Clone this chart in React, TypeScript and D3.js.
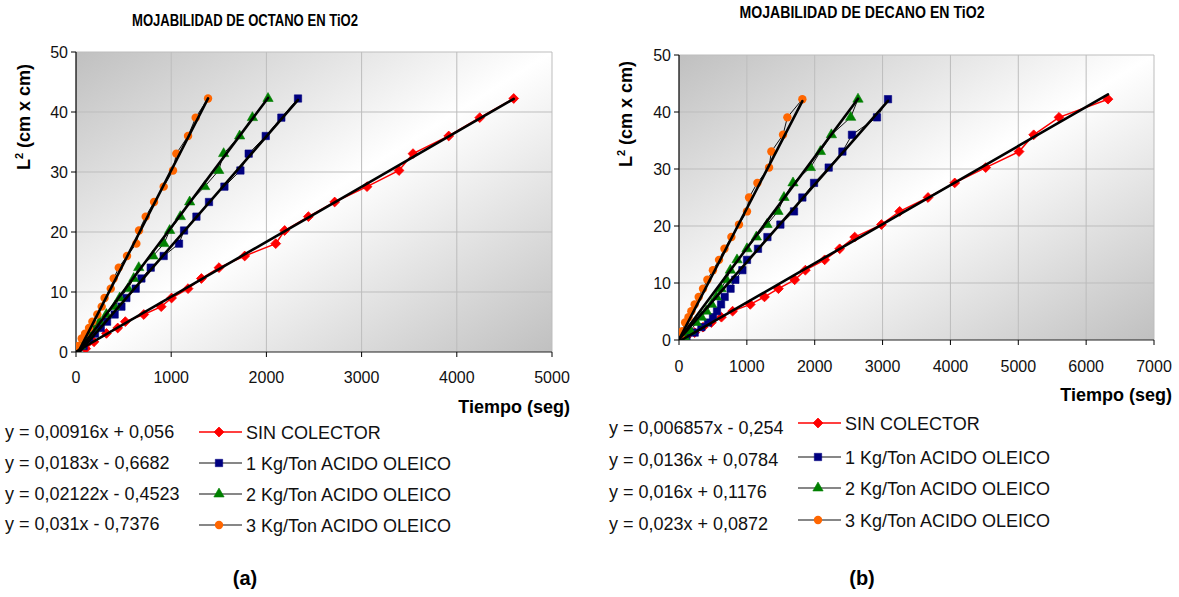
import React from "react";
import * as d3 from "d3";

// L^2 (cm x cm) vs tiempo (seg), pares [t, L2]
const octanoSin: [number, number][] = [
  [0, 0], [102, 0.56], [189, 1.7], [320, 3.1], [438, 4], [518, 5.06], [712, 6.25], [895, 7.56],
  [1004, 9], [1177, 10.56], [1317, 12.25], [1502, 14.06], [1772, 16], [2098, 18.06], [2192, 20.25],
  [2441, 22.56], [2717, 25], [3057, 27.56], [3393, 30.25], [3540, 33.06], [3915, 36], [4241, 39.06], [4598, 42.25],
];
const octanoUno: [number, number][] = [
  [0, 0], [80, 1], [140, 2.25], [200, 3.06], [260, 4], [326, 5.06], [406, 6.25], [477, 7.56],
  [529, 9], [627, 10.56], [687, 12.25], [785, 14.06], [921, 16], [1082, 18.06], [1135, 20.25],
  [1265, 22.56], [1397, 25], [1559, 27.56], [1727, 30.25], [1814, 33.06], [1993, 36], [2157, 39.06], [2332, 42.25],
];
const octanoDos: [number, number][] = [
  [0, 0], [46, 1], [90, 2.25], [130, 3.06], [179, 4], [249, 5.06], [319, 6.25], [406, 7.56],
  [459, 9], [546, 10.56], [606, 12.25], [659, 14.06], [809, 16], [924, 18.06], [984, 20.25],
  [1096, 22.56], [1194, 25], [1352, 27.56], [1499, 30.25], [1551, 33.06], [1719, 36], [1853, 39.06], [2017, 42.25],
];
const octanoTres: [number, number][] = [
  [0, 0], [25, 1], [60, 2.25], [95, 3.06], [137, 4], [172, 5.06], [224, 6.25], [270, 7.56],
  [300, 9], [365, 10.56], [396, 12.25], [449, 14.06], [536, 16], [634, 18.06], [662, 20.25],
  [732, 22.56], [820, 25], [921, 27.56], [1019, 30.25], [1054, 33.06], [1177, 36], [1257, 39.06], [1387, 42.25],
];

const decanoSin: [number, number][] = [
  [0, 0], [109, 0.56], [231, 1.3], [354, 2.25], [477, 3.06], [625, 4], [790, 5.06], [1050, 6.25],
  [1260, 7.56], [1465, 9], [1705, 10.56], [1862, 12.25], [2147, 14.06], [2368, 16], [2589, 18.06],
  [2983, 20.25], [3252, 22.56], [3670, 25], [4063, 27.56], [4520, 30.25], [5011, 33.06], [5227, 36], [5600, 39.06], [6322, 42.25],
];
const decanoUno: [number, number][] = [
  [0, 0], [110, 0.56], [231, 1.3], [330, 2.25], [427, 3.06], [501, 4], [560, 5.06], [620, 6.25],
  [673, 7.56], [760, 9], [830, 10.56], [934, 12.25], [1002, 14.06], [1164, 16], [1303, 18.06],
  [1494, 20.25], [1695, 22.56], [1818, 25], [1990, 27.56], [2206, 30.25], [2408, 33.06], [2549, 36], [2918, 39.06], [3080, 42.25],
];
const decanoDos: [number, number][] = [
  [0, 0], [80, 0.56], [168, 1.56], [256, 3.06], [330, 4], [403, 5.06], [480, 6.25], [551, 7.56],
  [620, 9], [698, 10.56], [757, 12.25], [855, 14.06], [1002, 16], [1140, 18.06], [1297, 20.25],
  [1459, 22.56], [1547, 25], [1680, 27.56], [1936, 30.25], [2084, 33.06], [2246, 36], [2530, 39.06], [2638, 42.25],
];
const decanoTres: [number, number][] = [
  [0, 0], [20, 0.56], [50, 1.56], [90, 3.06], [140, 4], [182, 5.06], [231, 6.25], [290, 7.56],
  [354, 9], [418, 10.56], [500, 12.25], [590, 14.06], [670, 16], [772, 18.06], [884, 20.25],
  [1002, 22.56], [1032, 25], [1155, 27.56], [1327, 30.25], [1361, 33.06], [1533, 36], [1597, 39.06], [1818, 42.25],
];

// lineas de tendencia
const octanoSlopes = [0.00916, 0.0183, 0.02122, 0.031];
const octanoIntercepts = [0.056, -0.6682, -0.4523, -0.7376];
const decanoSlopes = [0.006857, 0.0136, 0.016, 0.023];
const decanoIntercepts = [-0.254, 0.0784, 0.1176, 0.0872];

const octanoEquations = ["y = 0,00916x + 0,056", "y = 0,0183x - 0,6682", "y = 0,02122x - 0,4523", "y = 0,031x - 0,7376"];
const decanoEquations = ["y = 0,006857x - 0,254", "y = 0,0136x + 0,0784", "y = 0,016x + 0,1176", "y = 0,023x + 0,0872"];

const seriesNames = ["SIN COLECTOR", "1 Kg/Ton ACIDO OLEICO", "2 Kg/Ton ACIDO OLEICO", "3 Kg/Ton ACIDO OLEICO"];
const markerColors = ["#ff0000", "#000080", "#008000", "#ff6600"];
const lineColors = ["#ff0000", "#111111", "#111111", "#111111"];

const yTicks = [0, 10, 20, 30, 40, 50];
const octanoXTicks = [0, 1000, 2000, 3000, 4000, 5000];
const decanoXTicks = [0, 1000, 2000, 3000, 4000, 5000, 6000, 7000];

const FONT = "'Liberation Sans', Arial, sans-serif";

function Marker({ kind, cx, cy }: { kind: number; cx: number; cy: number }) {
  const c = markerColors[kind];
  if (kind === 0) {
    const d = d3.symbol(d3.symbolSquare, 48)();
    return <path d={d!} transform={`translate(${cx},${cy}) rotate(45)`} fill={c} stroke={c} strokeWidth={0.8} />;
  }
  if (kind === 1) {
    const d = d3.symbol(d3.symbolSquare, 54)();
    return <path d={d!} transform={`translate(${cx},${cy})`} fill={c} stroke={c} strokeWidth={0.6} />;
  }
  if (kind === 2) {
    const d = d3.symbol(d3.symbolTriangle, 46)();
    return <path d={d!} transform={`translate(${cx},${cy})`} fill={c} stroke={c} strokeWidth={0.6} />;
  }
  return <circle cx={cx} cy={cy} r={4.2} fill={c} />;
}

type ChartProps = {
  id: string;
  series: [number, number][][];
  slopes: number[];
  intercepts: number[];
  equations: string[];
  xMax: number;
  xTicks: number[];
  left: number;
  right: number;
  top: number;
  bottom: number;
  title: string;
  titleX: number;
  titleY: number;
  titleLen: number;
  yLabelX: number;
  yLabelY: number;
  xLabelRight: number;
  xLabelY: number;
  xTickY: number;
  eqX: number;
  eqY: number[];
  legX: number;
  legY: number[];
  tag: string;
  tagX: number;
};

function Chart(p: ChartProps) {
  const x = d3.scaleLinear().domain([0, p.xMax]).range([p.left, p.right]);
  const y = d3.scaleLinear().domain([0, 50]).range([p.bottom, p.top]);
  const line = d3
    .line<[number, number]>()
    .x((d) => x(d[0]))
    .y((d) => y(d[1]));

  return (
    <g fontFamily={FONT}>
      <defs>
        <linearGradient id={`bg-${p.id}`} x1="0" y1="0" x2="1" y2="1">
          <stop offset="0" stopColor="#c0c0c0" />
          <stop offset="0.5" stopColor="#ffffff" />
          <stop offset="1" stopColor="#c0c0c0" />
        </linearGradient>
        <clipPath id={`clip-${p.id}`}>
          <rect x={p.left} y={p.top} width={p.right - p.left} height={p.bottom - p.top} />
        </clipPath>
      </defs>

      <text x={p.titleX} y={p.titleY} textAnchor="middle" fontWeight="bold" fontSize={17}
        textLength={p.titleLen} lengthAdjust="spacingAndGlyphs">{p.title}</text>

      <rect x={p.left} y={p.top} width={p.right - p.left} height={p.bottom - p.top} fill={`url(#bg-${p.id})`} />

      {/* grid */}
      {yTicks.filter((t) => t > 0).map((t) => (
        <line key={"gy" + t} x1={p.left} x2={p.right} y1={y(t)} y2={y(t)} stroke="#bdbdbd" strokeWidth={1} />
      ))}
      {p.xTicks.filter((t) => t > 0).map((t) => (
        <line key={"gx" + t} x1={x(t)} x2={x(t)} y1={p.top} y2={p.bottom} stroke="#bdbdbd" strokeWidth={1} />
      ))}

      {/* axes */}
      <line x1={p.left} x2={p.left} y1={p.top} y2={p.bottom} stroke="#000" strokeWidth={1.2} />
      <line x1={p.left} x2={p.right} y1={p.bottom} y2={p.bottom} stroke="#222" strokeWidth={1.2} />
      {yTicks.map((t) => (
        <g key={"yt" + t}>
          <line x1={p.left - 5} x2={p.left} y1={y(t)} y2={y(t)} stroke="#000" />
          <text x={p.left - 8} y={y(t) + 5.5} textAnchor="end" fontSize={16} fill="#111">{t}</text>
        </g>
      ))}
      {p.xTicks.map((t) => (
        <g key={"xt" + t}>
          <line x1={x(t)} x2={x(t)} y1={p.bottom} y2={p.bottom + 5} stroke="#000" />
          <text x={x(t)} y={p.xTickY} textAnchor="middle" fontSize={16} fill="#111">{t}</text>
        </g>
      ))}

      <text transform={`translate(${p.yLabelX},${p.yLabelY}) rotate(-90)`} textAnchor="middle" fontWeight="bold" fontSize={18}>
        L<tspan fontSize={11} dy={-7}>2</tspan><tspan dy={7}> (cm x cm)</tspan>
      </text>
      <text x={p.xLabelRight} y={p.xLabelY} textAnchor="end" fontWeight="bold" fontSize={18}>Tiempo (seg)</text>

      {/* data */}
      <g clipPath={`url(#clip-${p.id})`}>
        {p.series.map((s, i) => (
          <path key={"l" + i} d={line(s)!} fill="none" stroke={lineColors[i]} strokeWidth={i === 0 ? 1.5 : 1} />
        ))}
        {p.series.map((s, i) => (
          <g key={"m" + i}>
            {s.map((d, j) => <Marker key={j} kind={i} cx={x(d[0])} cy={y(d[1])} />)}
          </g>
        ))}
        {p.series.map((s, i) => {
          const xMax = d3.max(s, (d) => d[0])!;
          const pts: [number, number][] = [
            [0, p.intercepts[i]],
            [xMax, p.slopes[i] * xMax + p.intercepts[i]],
          ];
          return <path key={"t" + i} d={line(pts)!} fill="none" stroke="#000" strokeWidth={2.6} strokeLinecap="round" />;
        })}
      </g>

      {/* equations */}
      {p.equations.map((e, i) => (
        <text key={"e" + i} x={p.eqX} y={p.eqY[i] + 6} fontSize={18} fill="#111">{e}</text>
      ))}

      {/* legend */}
      {seriesNames.map((n, i) => (
        <g key={"lg" + i}>
          <line x1={p.legX} x2={p.legX + 43} y1={p.legY[i]} y2={p.legY[i]} stroke={lineColors[i]} strokeWidth={i === 0 ? 1.5 : 1.2} />
          <Marker kind={i} cx={p.legX + 20} cy={p.legY[i]} />
          <text x={p.legX + 47} y={p.legY[i] + 6.5} fontSize={18} fill="#111">{n}</text>
        </g>
      ))}

      <text x={p.tagX} y={585} textAnchor="middle" fontWeight="bold" fontSize={20}>{p.tag}</text>
    </g>
  );
}

export default function App() {
  return (
    <svg width={1179} height={597} style={{ position: "absolute", left: 0, top: 0, background: "#fff" }}>
      <Chart
        id="a"
        series={[octanoSin, octanoUno, octanoDos, octanoTres]}
        slopes={octanoSlopes}
        intercepts={octanoIntercepts}
        equations={octanoEquations}
        xMax={5000}
        xTicks={octanoXTicks}
        left={76}
        right={552}
        top={52}
        bottom={352}
        title="MOJABILIDAD DE OCTANO EN TiO2"
        titleX={245}
        titleY={26}
        titleLen={226}
        yLabelX={30}
        yLabelY={117}
        xLabelRight={570}
        xLabelY={413}
        xTickY={383}
        eqX={5}
        eqY={[432, 463, 494, 524]}
        legX={199}
        legY={[432, 463, 494, 525]}
        tag="(a)"
        tagX={245}
      />
      <Chart
        id="b"
        series={[decanoSin, decanoUno, decanoDos, decanoTres]}
        slopes={decanoSlopes}
        intercepts={decanoIntercepts}
        equations={decanoEquations}
        xMax={7000}
        xTicks={decanoXTicks}
        left={679}
        right={1154}
        top={55}
        bottom={340}
        title="MOJABILIDAD DE DECANO EN TiO2"
        titleX={862}
        titleY={18}
        titleLen={245}
        yLabelX={632}
        yLabelY={114}
        xLabelRight={1172}
        xLabelY={401}
        xTickY={372}
        eqX={609}
        eqY={[428, 460, 492, 524]}
        legX={798}
        legY={[423, 457, 488, 520]}
        tag="(b)"
        tagX={862}
      />
    </svg>
  );
}
